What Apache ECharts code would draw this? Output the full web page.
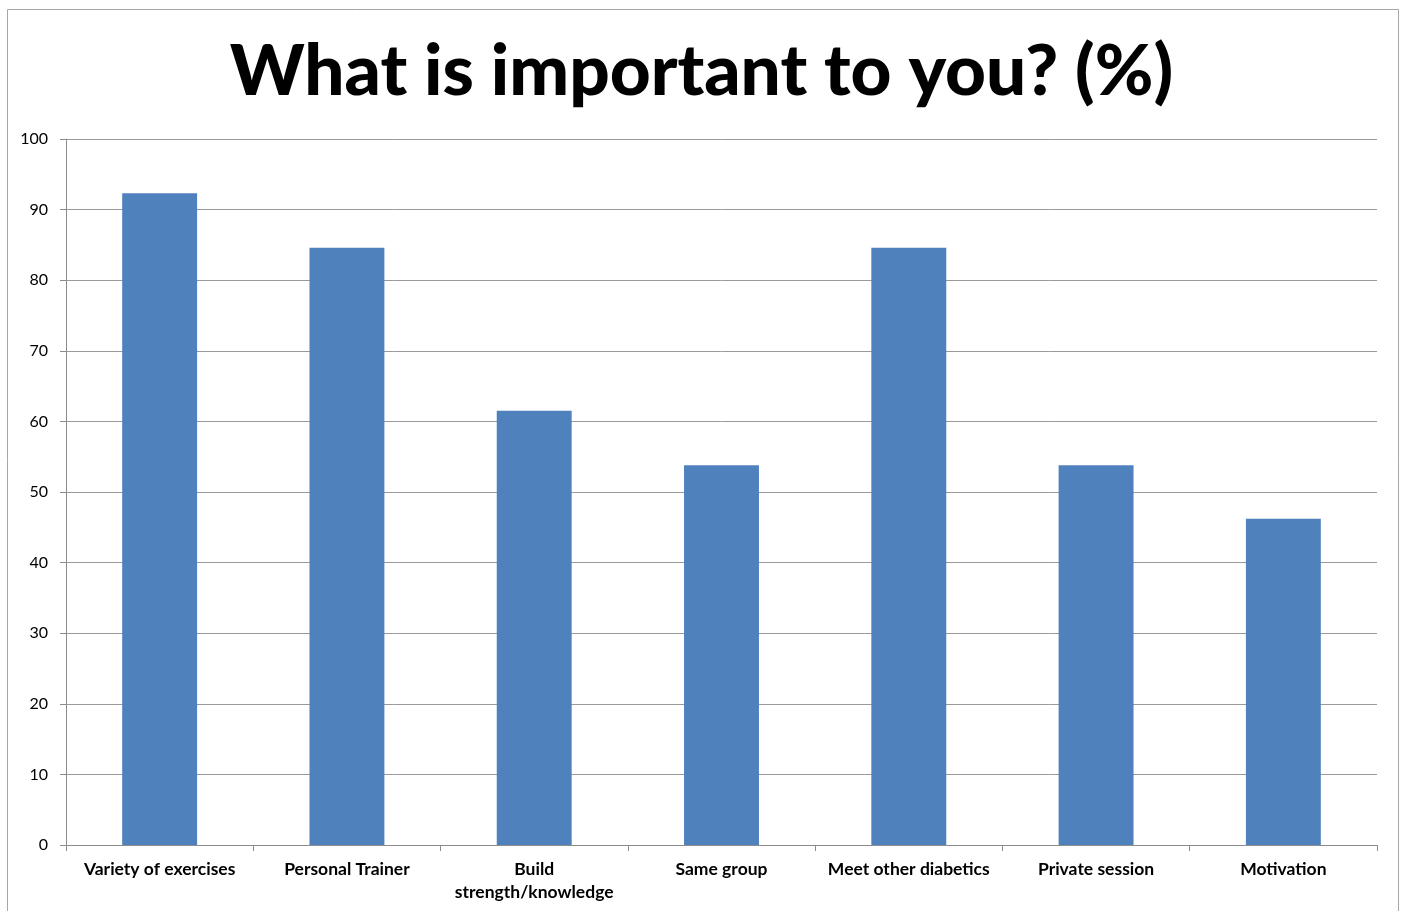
<!DOCTYPE html>
<html>
<head>
<meta charset="utf-8">
<script src="https://cdn.jsdelivr.net/npm/echarts@6/dist/echarts.min.js"></script>
<style>
  html, body { margin: 0; padding: 0; background: #fff; }
  #chart { width: 1403px; height: 911px; }
</style>
</head>
<body>
<div id="chart"></div>
<script>
var categories = ['Variety of exercises', 'Personal Trainer', 'Build\nstrength/knowledge', 'Same group',
    'Meet other diabetics', 'Private session', 'Motivation'];
var values = [92.3, 84.6, 61.5, 53.8, 84.6, 53.8, 46.2];
var yTicks = [0, 10, 20, 30, 40, 50, 60, 70, 80, 90, 100];

var chart = echarts.init(document.getElementById('chart'));
var option = {
    backgroundColor: '#fff',
    animation: false,
    title: {
        text: 'What is important to you? (%)',
        left: 'center',
        top: 32,
        textStyle: {
            fontFamily: 'Lato',
            fontWeight: 900,
            fontSize: 71,
            color: '#000'
        }
    },
    graphic: [{
        type: 'rect',
        shape: { x: 7.5, y: 9.5, width: 1391, height: 920 },
        style: { fill: 'none', stroke: '#a6a6a6', lineWidth: 1 },
        silent: true
    }],
    grid: { left: 66, right: 26, top: 139, bottom: 66 },
    xAxis: {
        type: 'category',
        data: categories,
        axisLine: { lineStyle: { color: '#8c8c8c', width: 1 } },
        axisTick: { show: true, alignWithLabel: false, length: 6, lineStyle: { color: '#8c8c8c' } },
        axisLabel: {
            interval: 0,
            margin: 13,
            color: '#000',
            fontFamily: 'Lato',
            fontWeight: 'bold',
            fontSize: 17.5,
            lineHeight: 23
        }
    },
    yAxis: {
        type: 'value',
        min: yTicks[0],
        max: yTicks[yTicks.length - 1],
        interval: 10,
        axisLine: { show: true, lineStyle: { color: '#8c8c8c' } },
        axisTick: { show: true, length: 6, lineStyle: { color: '#8c8c8c' } },
        splitLine: { lineStyle: { color: '#9a9a9a', width: 1 } },
        axisLabel: {
            margin: 18,
            color: '#000',
            fontFamily: 'Lato',
            fontSize: 16
        }
    },
    series: [{
        type: 'bar',
        data: values,
        barWidth: '40%',
        itemStyle: { color: '#4f81bd' }
    }]
};
chart.setOption(option);
</script>
</body>
</html>
